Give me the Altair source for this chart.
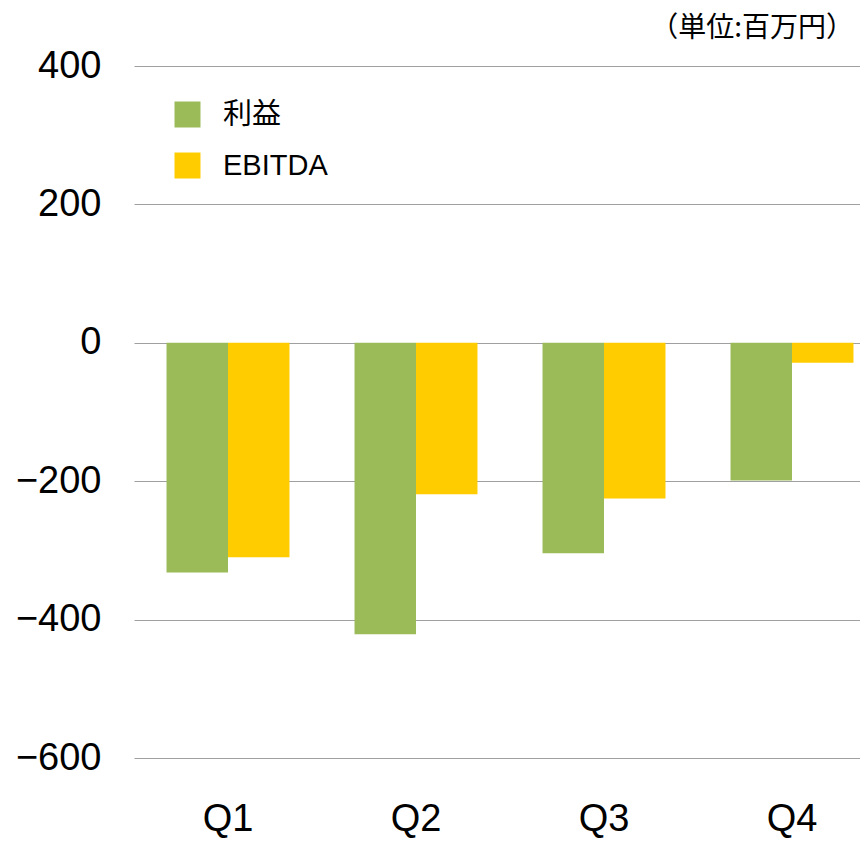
import altair as alt
import pandas as pd

quarters = ["Q1", "Q2", "Q3", "Q4"]
series = ["利益", "EBITDA"]
profit = [-332, -421, -304, -199]
ebitda = [-310, -219, -225, -29]
colors = ["#9BBB59", "#FFCC00"]
unit_label = "（単位:百万円）"

rows = []
for i, q in enumerate(quarters):
    rows.append({"q": q, "s": series[0], "v": profit[i]})
    rows.append({"q": q, "s": series[1], "v": ebitda[i]})
df = pd.DataFrame(rows)

W, H = 732, 692

bars = alt.Chart(df).mark_bar().encode(
    x=alt.X("q:N", sort=quarters,
            scale=alt.Scale(range=[6, 758], paddingInner=0.346, paddingOuter=0.173),
            axis=alt.Axis(title=None, labelAngle=0, domain=False, ticks=False,
                          labelFont="Liberation Sans Narrow, Liberation Sans",
                          labelFontSize=38, labelColor="#000000", labelPadding=42)),
    xOffset=alt.XOffset("s:N", sort=series, scale=alt.Scale(paddingInner=0, paddingOuter=0)),
    y=alt.Y("v:Q", scale=alt.Scale(domain=[-600, 400], nice=False),
            axis=alt.Axis(title=None, values=[-600, -400, -200, 0, 200, 400],
                          domain=False, ticks=False, labelFont="Liberation Sans",
                          labelFontSize=38, labelColor="#000000", labelPadding=27,
                          gridColor="#A0A0A0", gridWidth=1)),
    color=alt.Color("s:N", sort=series,
                    scale=alt.Scale(domain=series, range=colors),
                    legend=alt.Legend(title=None, orient="none", legendX=45, legendY=34,
                                      symbolType="square", symbolSize=676,
                                      symbolStrokeWidth=0, labelFontSize=29,
                                      labelFont="Liberation Sans, Noto Sans CJK JP",
                                      labelColor="#000000", labelOffset=21,
                                      rowPadding=21, padding=0)),
)

unit = alt.Chart(pd.DataFrame({"t": [unit_label]})).mark_text(
    align="right", baseline="middle", fontSize=28, font="Noto Sans CJK JP", color="#000000"
).encode(x=alt.value(W - 6), y=alt.value(-37), text="t:N")

chart = alt.layer(bars, unit).properties(
    width=W, height=H,
    autosize=alt.AutoSizeParams(type="none"),
    padding={"left": 120, "top": 58, "right": 0, "bottom": 82},
).configure_view(stroke=None)

chart.save("out.html", embed_options={"renderer": "svg", "actions": False})
